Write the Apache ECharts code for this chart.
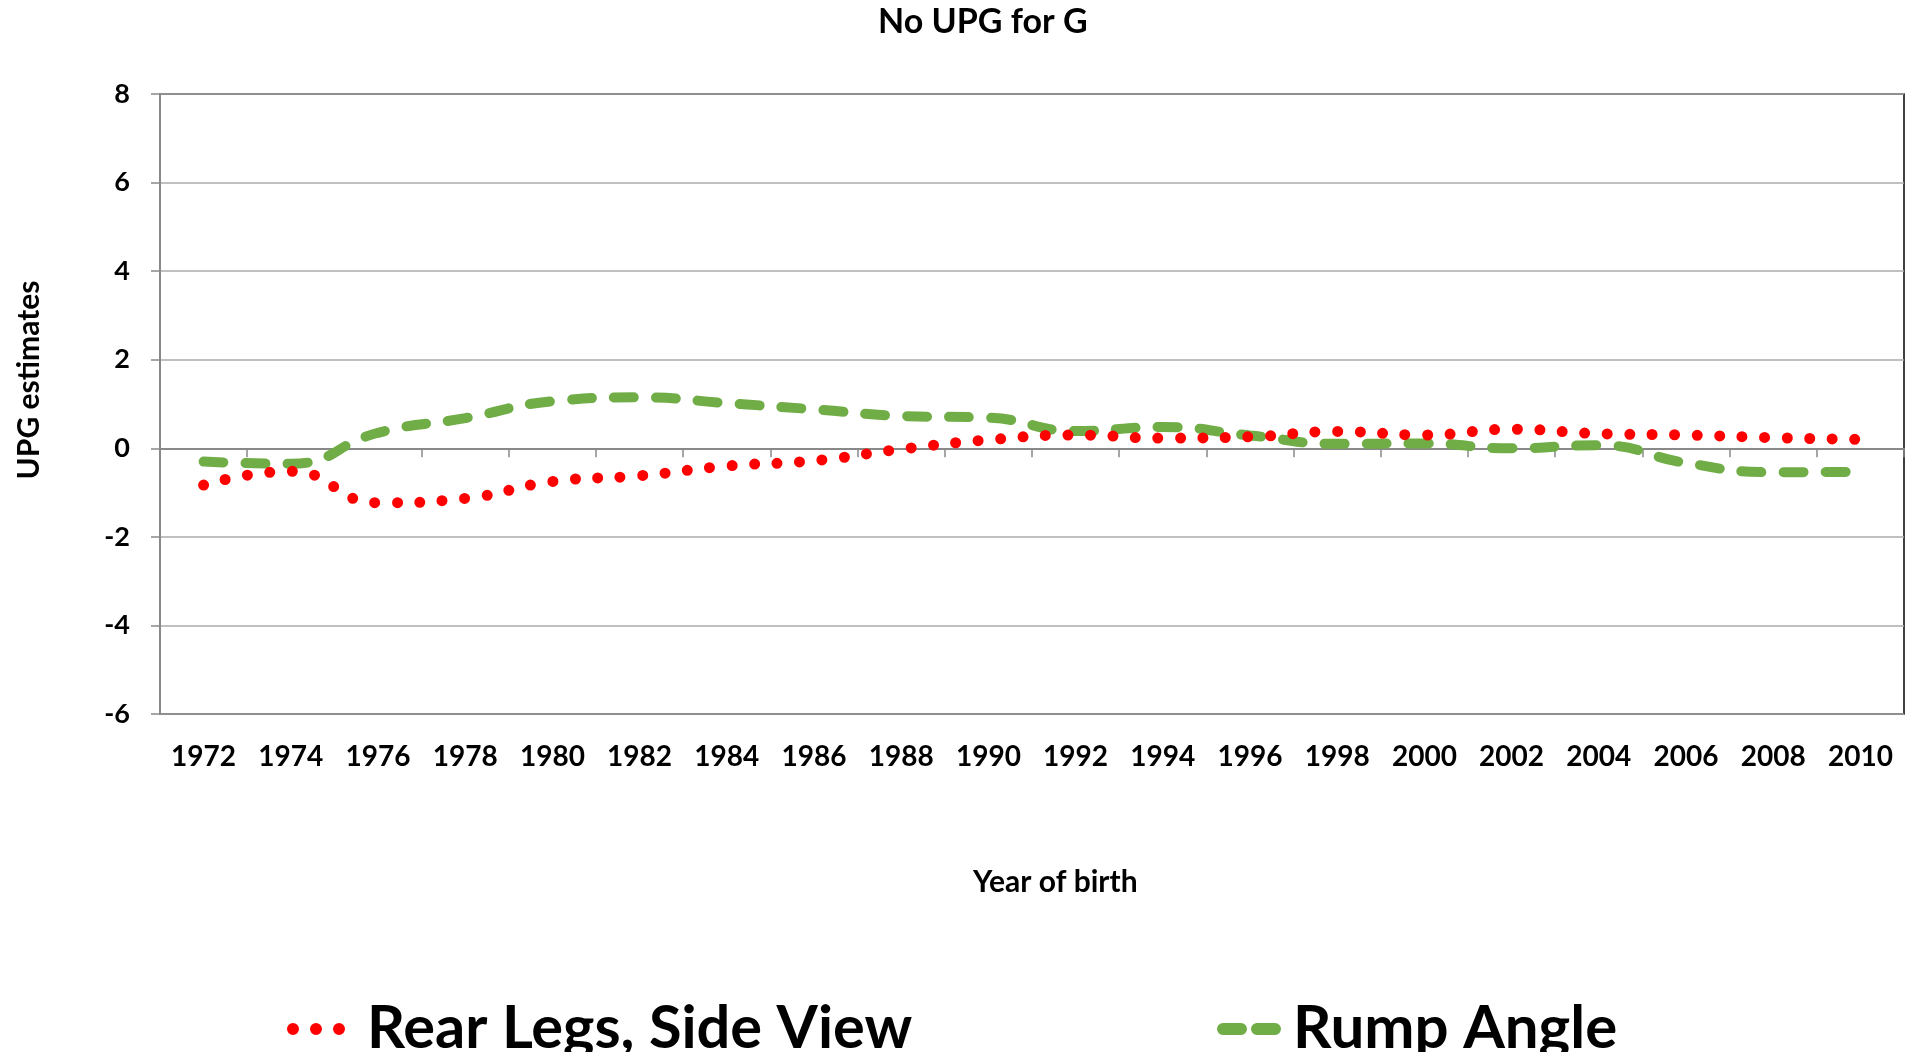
<!DOCTYPE html>
<html>
<head>
<meta charset="utf-8">
<script src="https://cdn.jsdelivr.net/npm/echarts@6/dist/echarts.min.js"></script>
<style>
  html, body { margin: 0; padding: 0; background: #ffffff; }
  #chart { width: 1908px; height: 1052px; }
</style>
</head>
<body>
<div id="chart"></div>
<script>
const years = ['1972','1974','1976','1978','1980','1982','1984','1986','1988','1990',
               '1992','1994','1996','1998','2000','2002','2004','2006','2008','2010'];
const rearLegs = [-0.83, -0.52, -1.23, -1.13, -0.75, -0.62, -0.40, -0.28, -0.02, 0.19,
                  0.30, 0.23, 0.26, 0.38, 0.30, 0.43, 0.33, 0.30, 0.24, 0.20];
const rumpAngle = [-0.30, -0.35, 0.35, 0.68, 1.06, 1.15, 1.02, 0.88, 0.73, 0.69,
                   0.39, 0.48, 0.29, 0.10, 0.11, 0.00, 0.07, -0.33, -0.54, -0.53];
const yTicks = [-6, -4, -2, 0, 2, 4, 6, 8];
const titleText = 'No UPG for G';
const xName = 'Year of birth';
const yName = 'UPG estimates';
const seriesNames = ['Rear Legs, Side View', 'Rump Angle'];

const FONT = 'Lato';
const chart = echarts.init(document.getElementById('chart'), null, { renderer: 'canvas' });

const dotsIcon = 'path://M0,6A6,6 0 1,0 12,6A6,6 0 1,0 0,6Z M23,6A6,6 0 1,0 35,6A6,6 0 1,0 23,6Z M46,6A6,6 0 1,0 58,6A6,6 0 1,0 46,6Z';
const dashIcon = 'path://M6,0H24A6,6 0 0,1 24,12H6A6,6 0 0,1 6,0Z M40,0H58A6,6 0 0,1 58,12H40A6,6 0 0,1 40,0Z';

chart.setOption({
  animation: false,
  backgroundColor: '#ffffff',
  textStyle: { fontFamily: FONT },
  title: [
    { text: titleText, left: 873, top: 0,
      textStyle: { fontFamily: FONT, fontWeight: 'bold', fontSize: 34, color: '#000' } },
    { text: xName, left: 968, top: 862,
      textStyle: { fontFamily: FONT, fontWeight: 'bold', fontSize: 30, color: '#000' } }
  ],
  graphic: [{
    type: 'text',
    x: 29, y: 380,
    rotation: Math.PI / 2,
    style: { text: yName, fontFamily: FONT, fontWeight: 'bold', fontSize: 30, fill: '#000',
             align: 'center', verticalAlign: 'middle' }
  }],
  legend: [
    { left: 282, top: 994, itemWidth: 58, itemHeight: 12, itemGap: 0,
      itemStyle: { borderWidth: 0 },
      data: [{ name: seriesNames[0], icon: dotsIcon }],
      textStyle: { fontFamily: FONT, fontWeight: 'bold', fontSize: 59.5, color: '#000', padding: [0, 0, 0, 17] } },
    { left: 1212, top: 994, itemWidth: 70, itemHeight: 12, itemGap: 0,
      itemStyle: { borderWidth: 0 },
      data: [{ name: seriesNames[1], icon: dashIcon }],
      textStyle: { fontFamily: FONT, fontWeight: 'bold', fontSize: 60, color: '#000', padding: [0, 0, 0, 4] } }
  ],
  grid: { left: 160, right: 4, top: 94, bottom: 338, show: true, borderColor: '#000', borderWidth: 1.5, containLabel: false },
  xAxis: {
    type: 'category',
    data: years,
    boundaryGap: true,
    axisLine: { lineStyle: { color: '#898989', width: 2 } },
    axisTick: { show: true, interval: 0, length: 9, lineStyle: { color: '#898989', width: 1.5 } },
    axisLabel: { interval: 0, margin: 29, fontFamily: FONT, fontWeight: 'bold', fontSize: 28, color: '#000' },
    splitLine: { show: false }
  },
  yAxis: {
    type: 'value',
    min: yTicks[0], max: yTicks[yTicks.length - 1], interval: 2,
    axisLine: { show: true, lineStyle: { color: '#898989', width: 2 } },
    axisTick: { show: true, length: 9, lineStyle: { color: '#898989', width: 1.5 } },
    axisLabel: { margin: 30, fontFamily: FONT, fontWeight: 'bold', fontSize: 27, color: '#000' },
    splitLine: { show: true, lineStyle: { color: '#ababab', width: 1.5 } }
  },
  series: [
    { name: seriesNames[0], type: 'line', data: rearLegs, smooth: 0.5, showSymbol: false, symbol: 'none',
      color: '#ff0000',
      lineStyle: { color: '#ff0000', width: 11, type: [0, 22.5], cap: 'round' }, z: 3 },
    { name: seriesNames[1], type: 'line', data: rumpAngle, smooth: 0.5, showSymbol: false, symbol: 'none',
      color: '#70ad47',
      lineStyle: { color: '#70ad47', width: 10, type: [20, 22], cap: 'round' }, z: 2 }
  ]
});
</script>
</body>
</html>
